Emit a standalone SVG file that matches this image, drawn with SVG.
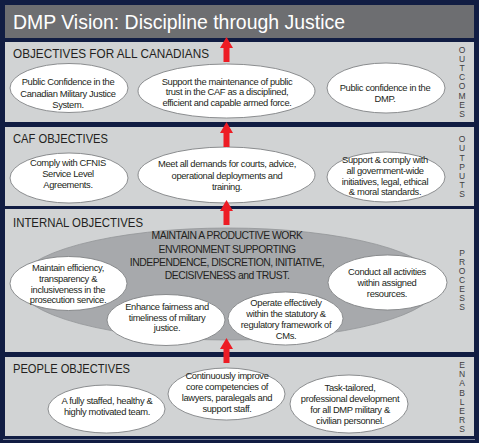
<svg xmlns="http://www.w3.org/2000/svg" width="479" height="443" viewBox="0 0 479 443">
<defs>
<style>
.panel{fill:#d1d3d4;}
.oval{fill:#ffffff;stroke:#808285;stroke-width:0.9;}
.big{fill:#a7a9ac;stroke:#939598;stroke-width:0.8;}
.t{font-family:"Liberation Sans",Arial,sans-serif;font-size:9.4px;letter-spacing:-0.35px;fill:#231f20;text-anchor:middle;}
.bt{font-family:"Liberation Sans",Arial,sans-serif;font-size:10.4px;letter-spacing:-0.5px;fill:#231f20;text-anchor:middle;}
.h{font-family:"Liberation Sans",Arial,sans-serif;font-size:13.5px;fill:#231f20;}
.side{font-family:"Liberation Sans",Arial,sans-serif;font-size:8.5px;fill:#414042;text-anchor:middle;}
.arrow{fill:#ed1c24;}
</style>
<path id="arr" d="M0,0 L6.5,11 L3,11 L3,25 L-3,25 L-3,11 L-6.5,11 Z"/>
</defs>
<rect x="0" y="0" width="479" height="443" fill="#111d43"/>
<rect x="3" y="439" width="472" height="1" fill="#7d869c"/>

<g id="title">
<rect x="5" y="5" width="469" height="33" fill="#6d6e71"/>
<text x="13" y="29" font-family="Liberation Sans, Arial, sans-serif" font-size="21" fill="#ffffff" textLength="332" lengthAdjust="spacingAndGlyphs">DMP Vision: Discipline through Justice</text>
</g>

<g id="panel-outcomes">
<rect class="panel" x="5" y="42" width="469" height="80"/>
<text class="h" x="13" y="58" textLength="196" lengthAdjust="spacingAndGlyphs">OBJECTIVES FOR ALL CANADIANS</text>
<g class="side"><text x="462" y="53">O</text><text x="462" y="62">U</text><text x="462" y="71">T</text><text x="462" y="80">C</text><text x="462" y="89">O</text><text x="462" y="99">M</text><text x="462" y="108">E</text><text x="462" y="117">S</text></g>
</g>
<g id="node-public-confidence-cmjs">
<ellipse class="oval" cx="69" cy="88" rx="59" ry="24.5"/>
<text class="t" x="68" y="85">Public Confidence in the</text><text class="t" x="68" y="96.5">Canadian Military Justice</text><text class="t" x="68" y="108">System.</text>
</g>
<g id="node-public-trust-caf">
<ellipse class="oval" cx="226.5" cy="91" rx="88.5" ry="27"/>
<text class="t" x="227" y="84.5">Support the maintenance of public</text><text class="t" x="227" y="95">trust in the CAF as a disciplined,</text><text class="t" x="227" y="105.5">efficient and capable armed force.</text>
</g>
<g id="node-public-confidence-dmp">
<ellipse class="oval" cx="386" cy="88" rx="59" ry="25"/>
<text class="t" x="385" y="91">Public confidence in the</text><text class="t" x="385" y="101.5">DMP.</text>
</g>

<g id="panel-outputs">
<rect class="panel" x="5" y="127" width="469" height="79"/>
<text class="h" x="13" y="143" textLength="95" lengthAdjust="spacingAndGlyphs">CAF OBJECTIVES</text>
<g class="side"><text x="462" y="142">O</text><text x="462" y="151">U</text><text x="462" y="160.5">T</text><text x="462" y="169.5">P</text><text x="462" y="179">U</text><text x="462" y="188">T</text><text x="462" y="197">S</text></g>
</g>
<g id="node-cfnis">
<ellipse class="oval" cx="69" cy="178" rx="59" ry="25"/>
<text class="t" x="68" y="166">Comply with CFNIS</text><text class="t" x="68" y="177">Service Level</text><text class="t" x="68" y="188">Agreements.</text>
</g>
<g id="node-meet-demands">
<ellipse class="oval" cx="226.5" cy="175" rx="88.5" ry="28"/>
<text class="t" x="227" y="167">Meet all demands for courts, advice,</text><text class="t" x="227" y="179">operational deployments and</text><text class="t" x="227" y="190">training.</text>
</g>
<g id="node-government-wide">
<ellipse class="oval" cx="386" cy="177" rx="59" ry="25"/>
<text class="t" x="385" y="163">Support &amp; comply with</text><text class="t" x="385" y="173.5">all government-wide</text><text class="t" x="385" y="184.5">initiatives, legal, ethical</text><text class="t" x="385" y="195">&amp; moral standards.</text>
</g>

<g id="panel-process">
<rect class="panel" x="5" y="209" width="469" height="143"/>
<text class="h" x="13" y="227" textLength="130" lengthAdjust="spacingAndGlyphs">INTERNAL OBJECTIVES</text>
<g class="side"><text x="462" y="256">P</text><text x="462" y="265">R</text><text x="462" y="274">O</text><text x="462" y="283">C</text><text x="462" y="292">E</text><text x="462" y="301">S</text><text x="462" y="310">S</text></g>
</g>
<g id="node-productive-environment">
<ellipse class="big" cx="228" cy="284" rx="210" ry="56"/>
<text class="bt" x="227" y="239">MAINTAIN A PRODUCTIVE WORK</text><text class="bt" x="227" y="252.5">ENVIRONMENT SUPPORTING</text><text class="bt" x="227" y="266">INDEPENDENCE, DISCRETION, INITIATIVE,</text><text class="bt" x="227" y="279">DECISIVENESS and TRUST.</text>
</g>
<g id="node-efficiency">
<ellipse class="oval" cx="68.5" cy="283.5" rx="58.5" ry="27"/>
<text class="t" x="68" y="271">Maintain efficiency,</text><text class="t" x="68" y="281.5">transparency &amp;</text><text class="t" x="68" y="292.5">inclusiveness in the</text><text class="t" x="68" y="303">prosecution service.</text>
</g>
<g id="node-fairness">
<ellipse class="oval" cx="166" cy="320" rx="59" ry="25.5"/>
<text class="t" x="167" y="310">Enhance fairness and</text><text class="t" x="167" y="320.5">timeliness of military</text><text class="t" x="167" y="331">justice.</text>
</g>
<g id="node-statutory">
<ellipse class="oval" cx="285.5" cy="318.5" rx="57.5" ry="26.5"/>
<text class="t" x="286" y="306">Operate effectively</text><text class="t" x="286" y="317">within the statutory &amp;</text><text class="t" x="286" y="328">regulatory framework of</text><text class="t" x="286" y="338.5">CMs.</text>
</g>
<g id="node-resources">
<ellipse class="oval" cx="387.5" cy="282.5" rx="59.5" ry="27.5"/>
<text class="t" x="387" y="275">Conduct all activities</text><text class="t" x="387" y="286">within assigned</text><text class="t" x="387" y="296.5">resources.</text>
</g>

<g id="panel-enablers">
<rect class="panel" x="5" y="357" width="469" height="79"/>
<text class="h" x="13" y="373" textLength="117" lengthAdjust="spacingAndGlyphs">PEOPLE OBJECTIVES</text>
<g class="side"><text x="462" y="368">E</text><text x="462" y="377">N</text><text x="462" y="386">A</text><text x="462" y="395.5">B</text><text x="462" y="404.5">L</text><text x="462" y="413.5">E</text><text x="462" y="422.5">R</text><text x="462" y="432">S</text></g>
</g>
<g id="node-staffed">
<ellipse class="oval" cx="106.5" cy="409" rx="58.5" ry="24"/>
<text class="t" x="107" y="404">A fully staffed, healthy &amp;</text><text class="t" x="107" y="415">highly motivated team.</text>
</g>
<g id="node-competencies">
<ellipse class="oval" cx="226.5" cy="394" rx="58.5" ry="26"/>
<text class="t" x="227" y="379">Continuously improve</text><text class="t" x="227" y="390">core competencies of</text><text class="t" x="227" y="401">lawyers, paralegals and</text><text class="t" x="227" y="411.5">support staff.</text>
</g>
<g id="node-development">
<ellipse class="oval" cx="349" cy="404" rx="59" ry="29"/>
<text class="t" x="350" y="391">Task-tailored,</text><text class="t" x="350" y="402">professional development</text><text class="t" x="350" y="413">for all DMP military &amp;</text><text class="t" x="350" y="423.5">civilian personnel.</text>
</g>

<g id="connectors" class="arrow">
<use href="#arr" x="226.5" y="37"/>
<use href="#arr" x="226.5" y="122"/>
<use href="#arr" x="226.5" y="200"/>
<use href="#arr" x="226.5" y="338"/>
</g>
</svg>
